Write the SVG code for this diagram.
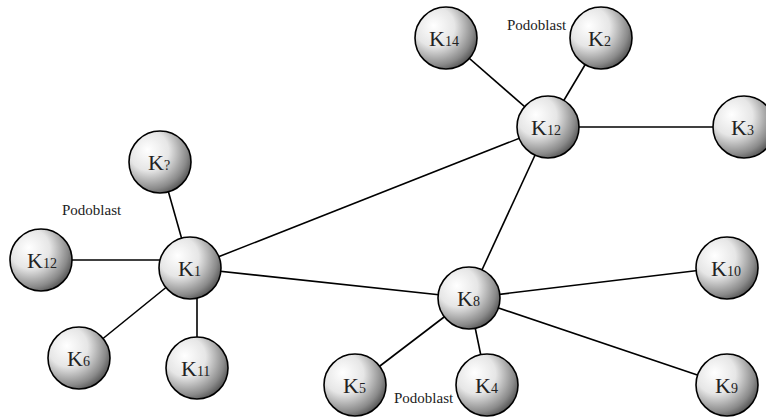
<svg xmlns="http://www.w3.org/2000/svg" width="766" height="419" viewBox="0 0 766 419">
<defs>
<radialGradient id="g" cx="0.35" cy="0.35" r="0.8" fx="0.3" fy="0.3">
<stop offset="0" stop-color="#ffffff"/>
<stop offset="0.4" stop-color="#e6e6e6"/>
<stop offset="0.75" stop-color="#8a8a8a"/>
<stop offset="1" stop-color="#2e2e2e"/>
</radialGradient>
</defs>
<style>
.e{stroke:#000;stroke-width:1.6;fill:none}
.n{fill:url(#g);stroke:#000;stroke-width:1.6}
.k{font-family:"Liberation Serif",serif;font-size:22px;fill:#222}
.s{font-size:14px}
.p{font-family:"Liberation Serif",serif;font-size:15px;fill:#222}
</style>
<rect width="766" height="419" fill="#fff"/>
<g id="connectors">
<line class="e" x1="446" y1="38" x2="548" y2="127"/>
<line class="e" x1="601" y1="38" x2="548" y2="127"/>
<line class="e" x1="548" y1="127" x2="744" y2="127"/>
<line class="e" x1="548" y1="127" x2="190" y2="268"/>
<line class="e" x1="548" y1="127" x2="469" y2="298"/>
<line class="e" x1="160" y1="162" x2="190" y2="268"/>
<line class="e" x1="41" y1="260" x2="190" y2="260"/>
<line class="e" x1="190" y1="268" x2="79" y2="358"/>
<line class="e" x1="197" y1="268" x2="197" y2="368"/>
<line class="e" x1="190" y1="268" x2="469" y2="298"/>
<line class="e" x1="469" y1="298" x2="727" y2="267"/>
<line class="e" x1="469" y1="298" x2="727" y2="385"/>
<line class="e" x1="469" y1="298" x2="355" y2="385"/>
<line class="e" x1="469" y1="298" x2="487" y2="385"/>
</g>
<g id="K14"><circle class="n" cx="446" cy="38" r="31"/><text class="k" x="429" y="46">K<tspan class="s">14</tspan></text></g>
<g id="K2"><circle class="n" cx="601" cy="38" r="31"/><text class="k" x="588" y="46">K<tspan class="s">2</tspan></text></g>
<g id="K12a"><circle class="n" cx="548" cy="127" r="31"/><text class="k" x="531" y="135">K<tspan class="s">12</tspan></text></g>
<g id="K3"><circle class="n" cx="744" cy="127" r="31"/><text class="k" x="731" y="135">K<tspan class="s">3</tspan></text></g>
<g id="K7"><circle class="n" cx="160" cy="162" r="31"/><text class="k" x="148" y="170">K<tspan class="s">?</tspan></text></g>
<g id="K12b"><circle class="n" cx="41" cy="260" r="31"/><text class="k" x="27" y="268">K<tspan class="s">12</tspan></text></g>
<g id="K1"><circle class="n" cx="190" cy="268" r="31"/><text class="k" x="178" y="276">K<tspan class="s">1</tspan></text></g>
<g id="K6"><circle class="n" cx="79" cy="358" r="31"/><text class="k" x="67" y="366">K<tspan class="s">6</tspan></text></g>
<g id="K11"><circle class="n" cx="197" cy="368" r="31"/><text class="k" x="181" y="376">K<tspan class="s">11</tspan></text></g>
<g id="K8"><circle class="n" cx="469" cy="298" r="31"/><text class="k" x="457" y="306">K<tspan class="s">8</tspan></text></g>
<g id="K10"><circle class="n" cx="727" cy="268" r="31"/><text class="k" x="711" y="276">K<tspan class="s">10</tspan></text></g>
<g id="K9"><circle class="n" cx="727" cy="385" r="31"/><text class="k" x="715" y="393">K<tspan class="s">9</tspan></text></g>
<g id="K5"><circle class="n" cx="355" cy="385" r="31"/><text class="k" x="343" y="393">K<tspan class="s">5</tspan></text></g>
<g id="K4"><circle class="n" cx="487" cy="385" r="31"/><text class="k" x="475" y="393">K<tspan class="s">4</tspan></text></g>
<g id="labels">
<text class="p" x="507" y="30">Podoblast</text>
<text class="p" x="62" y="215">Podoblast</text>
<text class="p" x="394" y="403">Podoblast</text>
</g>
</svg>
